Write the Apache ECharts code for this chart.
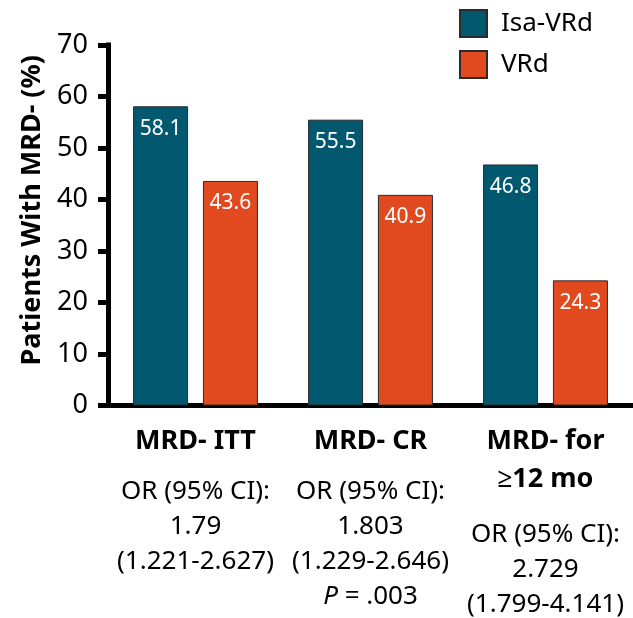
<!DOCTYPE html>
<html>
<head>
<meta charset="utf-8">
<script src="https://cdn.jsdelivr.net/npm/echarts@6/dist/echarts.min.js"></script>
<style>html,body{margin:0;padding:0;background:#fff}#c{width:633px;height:618px}</style>
</head>
<body>
<div id="c"></div>
<script>
const categories = ['MRD- ITT', 'MRD- CR', 'MRD- for\n≥12 mo'];
const seriesNames = ['Isa-VRd', 'VRd'];
const isaVRd = [58.1, 55.5, 46.8];
const vrd = [43.6, 40.9, 24.3];
const orLabel = 'OR (95% CI):';
const orValues = ['1.79', '1.803', '2.729'];
const ciValues = ['(1.221-2.627)', '(1.229-2.646)', '(1.799-4.141)'];
const pValues = ['', '.003', ''];
const yTicks = [0, 10, 20, 30, 40, 50, 60, 70];

const FONT = 'Noto Sans';
const chart = echarts.init(document.getElementById('c'), null, {renderer: 'canvas'});

function xLabel(value, index) {
  const titleLines = value.split('\n').map(s => '{b|' + s + '}');
  const spacer = titleLines.length > 1 ? '{s2| }' : '{s| }';
  const lines = titleLines.concat([spacer, '{n|' + orLabel + '}', '{n|' + orValues[index] + '}', '{n|' + ciValues[index] + '}']);
  if (pValues[index]) lines.push('{i|P}{n| = ' + pValues[index] + '}');
  return lines.join('\n');
}

chart.setOption({
  animation: false,
  backgroundColor: '#fff',
  textStyle: {fontFamily: FONT},
  legend: {
    orient: 'vertical',
    left: 459,
    top: 9,
    padding: 0,
    itemWidth: 27,
    itemHeight: 27,
    itemGap: 12,
    icon: 'rect',
    textStyle: {fontSize: 26, color: '#000', fontFamily: FONT, padding: [0, 0, 0, 9]},
    data: seriesNames
  },
  grid: {left: 108, top: 45, width: 528, height: 364, containLabel: false},
  xAxis: {
    type: 'category',
    data: categories,
    axisLine: {lineStyle: {color: '#000', width: 5, cap: 'square'}},
    axisTick: {alignWithLabel: true, length: 14, lineStyle: {color: '#000', width: 5}},
    axisLabel: {
      interval: 0,
      margin: 17,
      color: '#000',
      formatter: xLabel,
      rich: {
        b: {fontSize: 27, fontWeight: 'bold', lineHeight: 38, color: '#000', fontFamily: FONT},
        s: {fontSize: 8, lineHeight: 14},
        s2: {fontSize: 8, lineHeight: 19},
        n: {fontSize: 26, lineHeight: 35, color: '#000', fontFamily: FONT},
        i: {fontSize: 26, lineHeight: 35, color: '#000', fontStyle: 'italic', fontFamily: FONT}
      }
    }
  },
  yAxis: {
    type: 'value',
    min: yTicks[0],
    max: yTicks[yTicks.length - 1],
    interval: 10,
    name: 'Patients With MRD- (%)',
    nameLocation: 'middle',
    nameGap: 62,
    nameTextStyle: {fontSize: 27, fontWeight: 'bold', color: '#000', fontFamily: FONT, padding: [0, 0, 0, 30]},
    axisLine: {show: true, lineStyle: {color: '#000', width: 5, cap: 'square'}},
    axisTick: {show: true, length: 10, lineStyle: {color: '#000', width: 5}},
    axisLabel: {fontSize: 27, color: '#000', margin: 20, fontFamily: FONT},
    splitLine: {show: false}
  },
  series: [
    {
      name: seriesNames[0],
      type: 'bar',
      data: isaVRd,
      barWidth: 55,
      barGap: '27%',
      itemStyle: {color: '#02586f', borderColor: '#2b2b2b', borderWidth: 1},
      label: {show: true, position: 'insideTop', distance: 12, color: '#fff', fontSize: 21, fontFamily: FONT}
    },
    {
      name: seriesNames[1],
      type: 'bar',
      data: vrd,
      barWidth: 55,
      itemStyle: {color: '#e14a1f', borderColor: '#2b2b2b', borderWidth: 1},
      label: {show: true, position: 'insideTop', distance: 12, color: '#fff', fontSize: 21, fontFamily: FONT}
    }
  ]
});
</script>
</body>
</html>
